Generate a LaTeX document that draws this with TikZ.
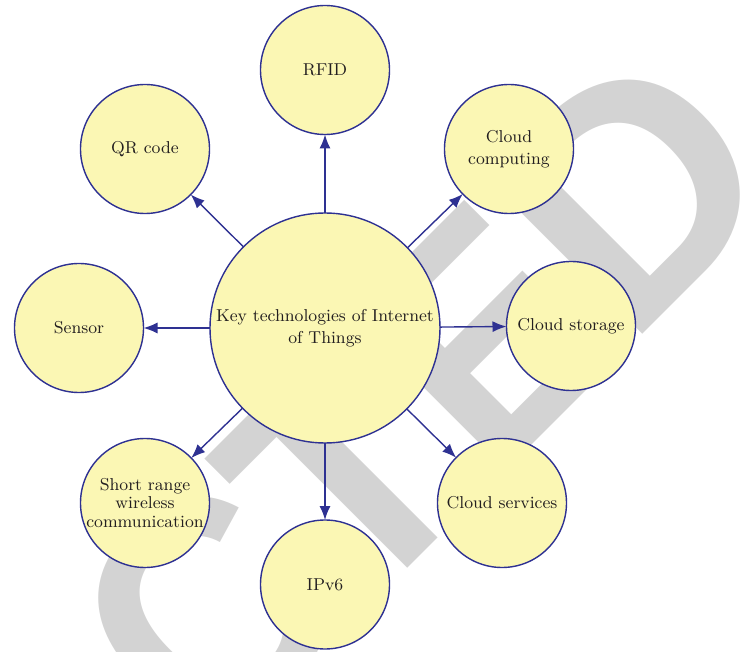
\documentclass[tikz,border=0pt]{standalone}
\usepackage{fontspec}
\newfontfamily\wmfont{Liberation Sans}
\usetikzlibrary{positioning,arrows.meta}
\definecolor{techfill}{RGB}{251,247,180}
\definecolor{techline}{RGB}{46,49,146}
\definecolor{techtext}{RGB}{35,31,32}
\definecolor{wmgray}{RGB}{211,211,211}

\begin{document}
\begin{tikzpicture}[x=0.5pt,y=-0.5pt,
  tech/.style={circle, draw=techline, line width=0.7pt, fill=techfill,
    minimum size=64.5pt, inner sep=0pt, outer sep=0pt, align=center,
    text=techtext, font=\fontsize{8.6}{10.8}\selectfont},
  hubnode/.style={tech, minimum size=115pt},
  link/.style={-{Latex[length=7pt,width=5.5pt]}, line width=0.7pt, color=techline},
  wmark/.style={rotate=45, xscale=0.93, anchor=base west, inner sep=0pt,
    text=wmgray, font=\wmfont\bfseries\fontsize{160.35}{160}\selectfont}]
\useasboundingbox (0,0) rectangle (745,652);
\clip (0,0) rectangle (745,652);
% stamp behind the diagram
\node[wmark] (wmC) at (209.0,767.6) {C};
\node[wmark] (wmT) at (358.7,617.9) {T};
\node[wmark] (wmE) at (491.9,484.8) {E};
\node[wmark, xscale=1.08] (wmD) at (626.9,349.7) {D};
% centre and the eight technologies
\node[hubnode] (hub) at (325,328) {Key technologies of Internet\\of Things};
\node[tech] (rfid) at (325,70) {RFID};
\node[tech] (qr) at (145,149) {QR code};
\node[tech] (ccomp) at (509,149) {Cloud\\computing};
\node[tech] (sensor) at (79,328) {Sensor};
\node[tech] (cstore) at (571,326) {Cloud storage};
\node[tech, font=\fontsize{8.6}{9.4}\selectfont] (short) at (145,503) {Short range\\wireless\\communication};
\node[tech] (ipv) at (325,584.5) {IPv6};
\node[tech] (cserv) at (502,503) {Cloud services};
% arrows out of the centre
\draw[link] (hub) -- (rfid);
\draw[link] (hub) -- (qr);
\draw[link] (hub) -- (ccomp);
\draw[link] (hub) -- (sensor);
\draw[link] (hub) -- (cstore);
\draw[link] (hub) -- (short);
\draw[link] (hub) -- (ipv);
\draw[link] (hub) -- (cserv);
\end{tikzpicture}
\end{document}
